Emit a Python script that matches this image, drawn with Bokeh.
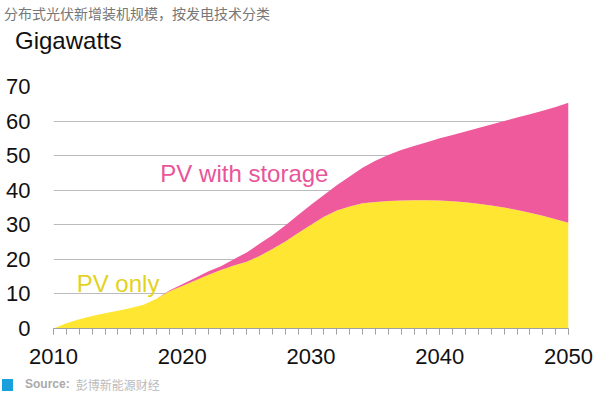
from bokeh.plotting import figure
from bokeh.models import ColumnDataSource, Range1d, FixedTicker, Label, Div
from bokeh.layouts import column
from bokeh.embed import file_html
from bokeh.resources import INLINE

years = list(range(2010, 2051))
pv_only = [0, 1.5, 2.7, 3.6, 4.4, 5.1, 5.9, 6.9, 8.6, 10.8,
           12.3, 13.9, 15.5, 16.9, 18.2, 19.3, 21.0, 23.0, 25.2, 27.6,
           30.0, 32.3, 34.1, 35.3, 36.2, 36.6, 36.9, 37.0, 37.1, 37.1,
           37.0, 36.8, 36.5, 36.1, 35.6, 35.0, 34.3, 33.5, 32.6, 31.6, 30.6]
total = [0, 1.5, 2.7, 3.6, 4.4, 5.1, 5.9, 6.9, 8.6, 11.0,
         12.8, 14.6, 16.5, 18.0, 20.0, 22.0, 24.5, 27.0, 29.8, 32.8,
         35.8, 38.6, 41.4, 44.0, 46.5, 48.5, 50.2, 51.6, 52.8, 53.9,
         55.0, 56.0, 57.0, 58.0, 59.0, 60.0, 61.0, 62.0, 63.0, 64.1, 65.3]
pv_storage = [round(t - p, 2) for t, p in zip(total, pv_only)]
x_ticks = [2010, 2020, 2030, 2040, 2050]
y_ticks = [0, 10, 20, 30, 40, 50, 60, 70]

title_text = "分布式光伏新增装机规模，按发电技术分类"
unit_text = "Gigawatts"
series_names = ["PV only", "PV with storage"]
source_label = "Source:"
source_name = "彭博新能源财经"

YELLOW = "#FEE633"
PINK = "#EF5A9D"

W = 600
TOP_H, SRC_H = 60, 29
H = 399 - TOP_H - SRC_H
FL, FR, FT, FB = 53, 568, 86, 328  # frame edges in page pixels
p = figure(width=W, height=H, output_backend="svg", toolbar_location=None, title=None,
           x_range=Range1d(2010, 2050), y_range=Range1d(0, 70),
           min_border_left=FL, min_border_right=W - FR, min_border_top=FT - TOP_H,
           min_border_bottom=H - (FB - TOP_H))
p.outline_line_color = None

src = ColumnDataSource(dict(year=years, pv=pv_only, storage=pv_storage))
p.varea_stack(["pv", "storage"], x="year", color=[YELLOW, PINK], source=src)

p.xgrid.grid_line_color = None
p.ygrid.grid_line_color = "#BBBBBB"
p.ygrid.grid_line_width = 1
p.yaxis.ticker = FixedTicker(ticks=y_ticks)
p.xaxis.ticker = FixedTicker(ticks=x_ticks, minor_ticks=years)

p.yaxis.axis_line_color = None
p.yaxis.major_tick_line_color = None
p.yaxis.minor_tick_line_color = None
p.yaxis.major_label_standoff = 17
p.yaxis.major_label_text_font = "Liberation Sans"
p.yaxis.major_label_text_font_size = "22px"
p.yaxis.major_label_text_color = "#111111"

p.xaxis.axis_line_color = "#A0A0A0"
p.xaxis.major_tick_line_color = "#A0A0A0"
p.xaxis.minor_tick_line_color = "#A0A0A0"
p.xaxis.major_tick_out = 6
p.xaxis.major_tick_in = 0
p.xaxis.minor_tick_out = 6
p.xaxis.minor_tick_in = 0
p.xaxis.major_label_standoff = 14
p.xaxis.major_label_text_font = "Liberation Sans"
p.xaxis.major_label_text_font_size = "22px"
p.xaxis.major_label_text_color = "#111111"

# series labels (data units)
p.add_layout(Label(x=2018.3, y=44.8, text=series_names[1], text_font="Liberation Sans",
                   text_font_size="24px", text_color="#E8559B", text_baseline="middle"))
p.add_layout(Label(x=2011.8, y=13.0, text=series_names[0], text_font="Liberation Sans",
                   text_font_size="24px", text_color="#E3D21E", text_baseline="middle"))

top_div = Div(
    text=('<div style="position:relative;width:600px;height:60px;margin:0;padding:0;">'
          '<div style="position:absolute;left:4px;top:6px;line-height:14px;white-space:nowrap;'
          'font-family:\'Noto Sans CJK SC\';font-size:14px;color:#777777;">' + title_text + '</div>'
          '<div style="position:absolute;left:15px;top:29px;line-height:24px;white-space:nowrap;'
          'font-family:\'Liberation Sans\';font-size:24px;color:#111111;">' + unit_text + '</div>'
          '</div>'),
    width=W, height=TOP_H, margin=(0, 0, 0, 0))

src_div = Div(
    text=('<div style="display:flex;align-items:center;height:29px;margin:0;padding:0;">'
          '<span style="display:inline-block;margin-left:2px;width:11px;height:12px;background:#1AA0DD;"></span>'
          '<span style="margin-left:12px;font-family:\'Liberation Sans\';font-weight:bold;'
          'font-size:12px;color:#AAAAAA;">' + source_label + '</span>'
          '<span style="margin-left:6px;font-family:\'Noto Sans CJK SC\';font-size:12px;'
          'color:#BBBBBB;">' + source_name + '</span></div>'),
    width=W, height=SRC_H, margin=(0, 0, 0, 0))

layout = column(top_div, p, src_div, spacing=0)
open("out.html", "w").write(file_html(layout, INLINE))
